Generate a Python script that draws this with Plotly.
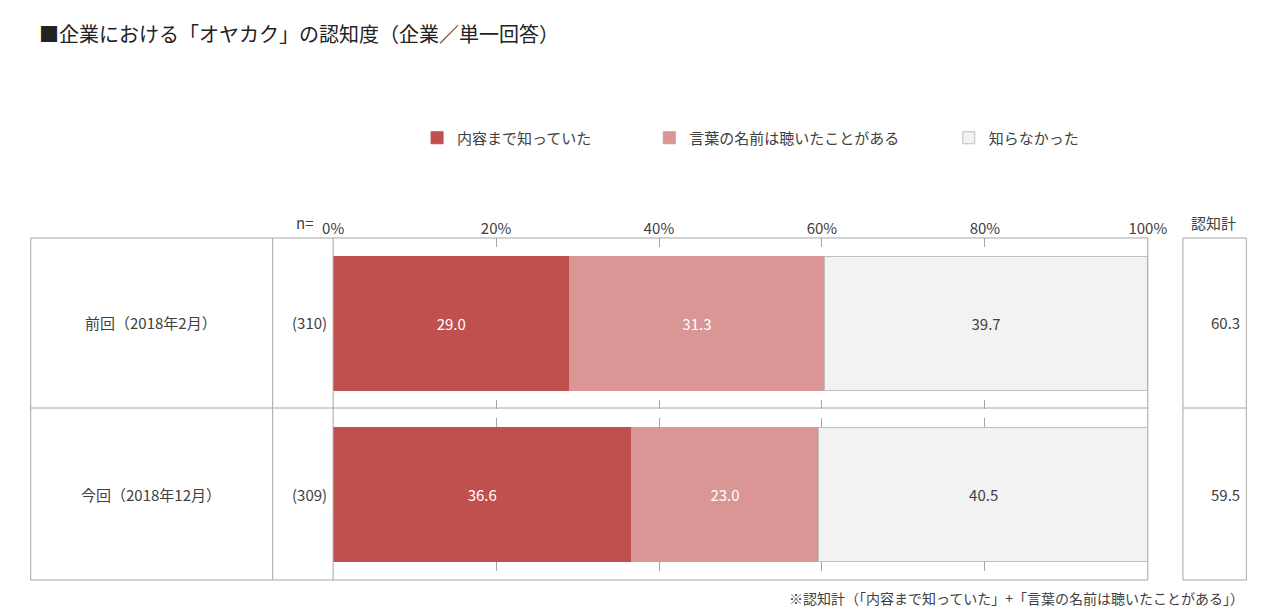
import plotly.graph_objects as go

# data
periods = ["前回（2018年2月）", "今回（2018年12月）"]
n_counts = ["(310)", "(309)"]
series_names = ["内容まで知っていた", "言葉の名前は聴いたことがある", "知らなかった"]
know_detail = [29.0, 36.6]
heard_name = [31.3, 23.0]
not_known = [39.7, 40.5]
aware_total = [60.3, 59.5]
tick_vals = [0, 20, 40, 60, 80, 100]

W, H = 1272, 612
def px(x): return x / W
def py(y): return 1 - y / H

colors = ["#C0504D", "#D99694", "#F2F2F2"]
text_colors = ["white", "white", "#404040"]
values = [know_detail, heard_name, not_known]
legend_names = ["legend", "legend2", "legend3"]
legend_x = [408, 646, 953]

FONT = "Noto Sans CJK JP"
fig = go.Figure()
for i in range(3):
    fig.add_trace(go.Bar(
        y=periods, x=values[i], name=series_names[i], orientation="h",
        marker=dict(color=colors[i], line=dict(color="#BFBFBF" if i == 2 else colors[i], width=1)),
        text=[f"{v:.1f}" for v in values[i]], textposition="inside", insidetextanchor="middle",
        textfont=dict(color=text_colors[i], size=15), width=0.78, legend=legend_names[i],
    ))

layout_legends = {}
for i, ln in enumerate(legend_names):
    layout_legends[ln] = dict(x=px(legend_x[i]), y=py(130), xanchor="left", yanchor="middle",
                              orientation="h", font=dict(size=15, color="#404040"),
                              bgcolor="rgba(0,0,0,0)", itemwidth=30)

x0, x1 = px(322), px(1157)
y0, y1 = py(572), py(230)
fig.update_layout(
    width=W, height=H, margin=dict(l=0, r=0, t=0, b=0),
    paper_bgcolor="white", plot_bgcolor="white", barmode="stack",
    font=dict(family=FONT, color="#404040"), showlegend=True, bargap=0.22,
    xaxis=dict(domain=[x0, x1], range=[0, 100], side="top", tickvals=tick_vals,
               ticktext=[f"{v}%" for v in tick_vals], showgrid=True, gridcolor="#A6A6A6",
               griddash="dash", zeroline=False, tickfont=dict(size=15), ticks="", fixedrange=True),
    yaxis=dict(domain=[y0, y1], autorange="reversed", showticklabels=False, showgrid=False,
               fixedrange=True),
    **layout_legends,
)

line = dict(color="#A6A6A6", width=1)
shapes = [
    dict(type="rect", xref="paper", yref="paper", x0=px(12), x1=x1, y0=y0, y1=y1, line=line),
    dict(type="line", xref="paper", yref="paper", x0=px(12), x1=x1, y0=py(400), y1=py(400), line=line),
    dict(type="line", xref="paper", yref="paper", x0=px(260), x1=px(260), y0=y0, y1=y1, line=line),
    dict(type="line", xref="paper", yref="paper", x0=x0, x1=x0, y0=y0, y1=y1, line=line),
    dict(type="rect", xref="paper", yref="paper", x0=px(1193), x1=px(1258), y0=y0, y1=y1, line=line),
    dict(type="line", xref="paper", yref="paper", x0=px(1193), x1=px(1258), y0=py(400), y1=py(400), line=line),
]
fig.update_layout(shapes=shapes)

ann = [
    dict(text="■企業における「オヤカク」の認知度（企業／単一回答）", x=px(18), y=py(26), xanchor="left",
         font=dict(size=20, color="#222")),
    dict(text="n=", x=px(293), y=py(214), font=dict(size=15)),
    dict(text="認知計", x=px(1224), y=py(214), font=dict(size=15)),
    dict(text="※認知計（「内容まで知っていた」+「言葉の名前は聴いたことがある」）", x=px(1258), y=py(590),
         xanchor="right", font=dict(size=14)),
]
row_y = [315, 487]
for i in range(2):
    ann.append(dict(text=periods[i], x=px(135), y=py(row_y[i]), font=dict(size=15)))
    ann.append(dict(text=n_counts[i], x=px(298), y=py(row_y[i]), font=dict(size=15)))
    ann.append(dict(text=f"{aware_total[i]:.1f}", x=px(1254), y=py(row_y[i]), xanchor="right",
                    font=dict(size=15)))
for a in ann:
    a.update(xref="paper", yref="paper", showarrow=False)
    a.setdefault("xanchor", "center")
    a["yanchor"] = "middle"
fig.update_layout(annotations=ann)

fig.write_html("out.html")
